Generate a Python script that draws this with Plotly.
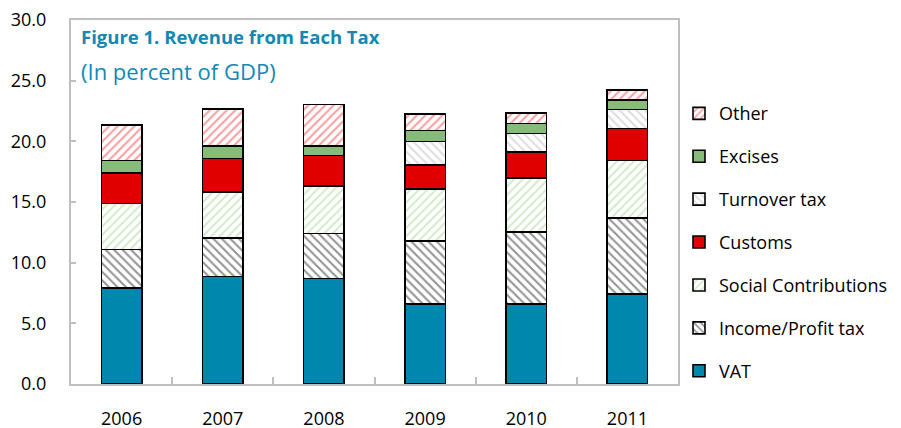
import plotly.graph_objects as go

years = ["2006", "2007", "2008", "2009", "2010", "2011"]
vat = [7.9, 8.85, 8.7, 6.6, 6.6, 7.4]
income_profit = [3.2, 3.18, 3.7, 5.18, 5.95, 6.3]
social = [3.78, 3.78, 3.92, 4.27, 4.43, 4.71]
customs = [2.52, 2.77, 2.52, 1.98, 2.12, 2.66]
turnover = [0, 0, 0, 1.97, 1.56, 1.56]
excises = [1.03, 1.04, 0.77, 0.9, 0.82, 0.8]
other = [2.94, 3.04, 3.42, 1.37, 0.88, 0.82]

FONT = "Open Sans"
TEAL = "#0087AD"

series = [
    ("VAT", vat, dict(color=TEAL)),
    ("Income/Profit tax", income_profit,
     dict(color="white", pattern=dict(shape="\\", fgcolor="#2a2a2a", bgcolor="white", size=6, solidity=0.35))),
    ("Social Contributions", social,
     dict(color="white", pattern=dict(shape="/", fgcolor="#A9D39A", bgcolor="white", size=6, solidity=0.35))),
    ("Customs", customs, dict(color="#E00000")),
    ("Turnover tax", turnover,
     dict(color="white", pattern=dict(shape="\\", fgcolor="#BDBDBD", bgcolor="white", size=6, solidity=0.35))),
    ("Excises", excises, dict(color="#86BC79")),
    ("Other", other,
     dict(color="white", pattern=dict(shape="/", fgcolor="#F24040", bgcolor="white", size=6, solidity=0.35))),
]

fig = go.Figure()
n = len(series)
for i, (name, vals, mk) in enumerate(series):
    mk = dict(mk)
    mk["line"] = dict(color="black", width=1.6)
    fig.add_trace(go.Bar(x=years, y=vals, name=name, marker=mk, width=0.4,
                         legendgroup=f"g{i}", legendrank=n - i))

fig.update_layout(
    width=901, height=428,
    barmode="stack",
    plot_bgcolor="white", paper_bgcolor="white",
    margin=dict(l=63, r=231, t=12, b=52, autoexpand=False),
    font=dict(family=FONT, size=18, color="black"),
    legend=dict(x=1.0 + 1.0 / 607, xanchor="left", y=0.7935, yanchor="top",
                traceorder="grouped", tracegroupgap=16.5,
                font=dict(family=FONT, size=18), itemwidth=30,
                bgcolor="rgba(0,0,0,0)"),
    showlegend=True,
    xaxis=dict(type="category", tickson="boundaries", ticks="inside", ticklen=7,
               tickcolor="#BFBFBF", tickwidth=1.5, showline=True, linecolor="#BFBFBF",
               linewidth=2, mirror=True, showgrid=False, ticklabelstandoff=17,
               tickfont=dict(size=18), automargin=False, ticklabeloverflow="allow"),
    yaxis=dict(range=[0, 30], dtick=5, tickformat=".1f", ticks="inside", ticklen=5,
               tickcolor="#BFBFBF", tickwidth=1.5, showline=True, linecolor="#BFBFBF",
               linewidth=2, mirror=True, showgrid=False, zeroline=False,
               ticklabelstandoff=19, tickfont=dict(size=18), automargin=False,
               ticklabeloverflow="allow"),
    annotations=[
        dict(text="<b>Figure 1. Revenue from Each Tax</b>", xref="paper", yref="paper",
             x=0, y=1, xanchor="left", yanchor="top", xshift=8, yshift=-2,
             showarrow=False, font=dict(family=FONT, size=18.5, color="#1288B3")),
        dict(text="(In percent of GDP)", xref="paper", yref="paper",
             x=0, y=1, xanchor="left", yanchor="top", xshift=8, yshift=-34,
             showarrow=False, font=dict(family=FONT, size=22, color="#1288B3")),
    ],
)

fig.write_html("out.html")
